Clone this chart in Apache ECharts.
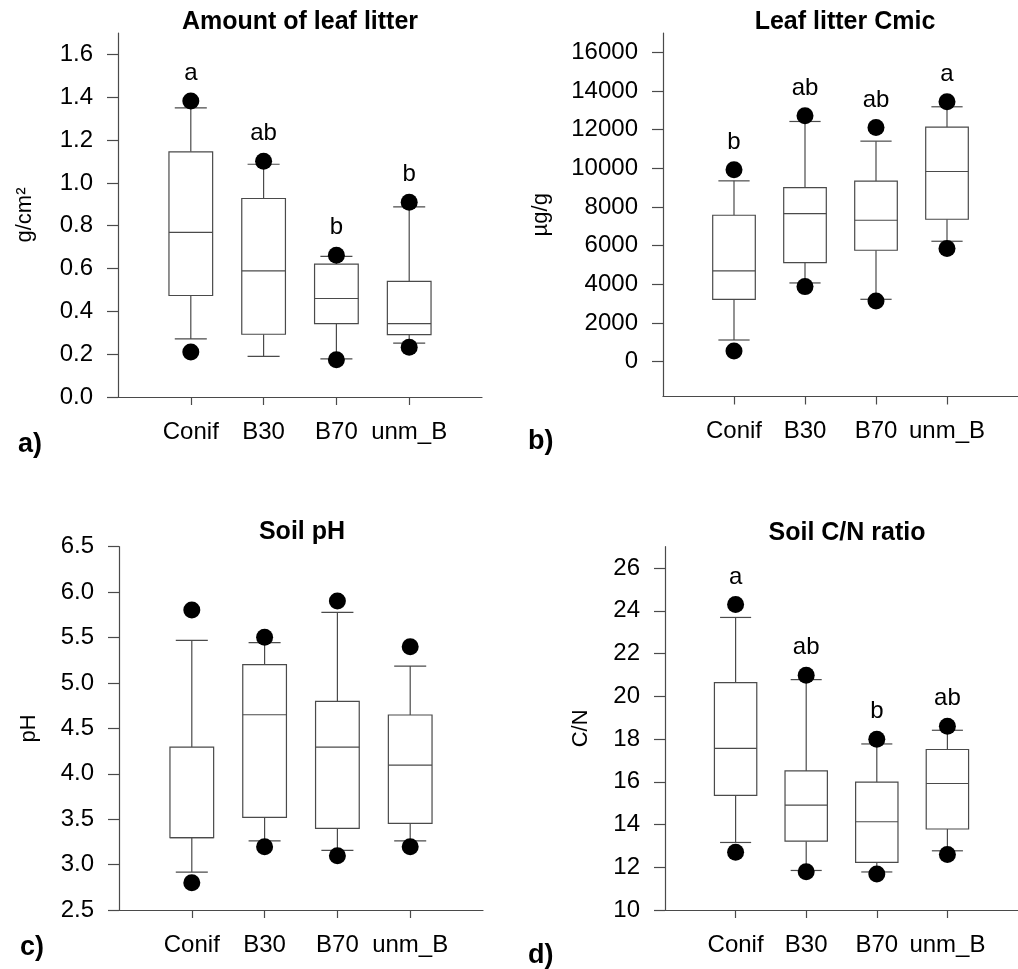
<!DOCTYPE html>
<html>
<head>
<meta charset="utf-8">
<script src="https://cdn.jsdelivr.net/npm/echarts@6/dist/echarts.min.js"></script>
<style>
  html, body { margin: 0; padding: 0; background: #fff; }
  #chart { width: 1018px; height: 969px; }
</style>
</head>
<body>
<div id="chart"></div>
<script>
// ---------------- data ----------------
const categories = ['Conif', 'B30', 'B70', 'unm_B'];

// Panel a: Amount of leaf litter  [lower whisker, Q1, median, Q3, upper whisker]
const litterBox = [
  [0.271, 0.474, 0.769, 1.145, 1.350],
  [0.190, 0.293, 0.589, 0.927, 1.087],
  [0.178, 0.343, 0.460, 0.621, 0.657],
  [0.252, 0.291, 0.343, 0.540, 0.888]
];
const litterHigh = [1.382, 1.101, 0.662, 0.910];
const litterLow = [0.210, null, 0.174, 0.232];
const litterLetters = ['a', 'ab', 'b', 'b'];
const litterTicks = [0.0, 0.2, 0.4, 0.6, 0.8, 1.0, 1.2, 1.4, 1.6];

// Panel b: Leaf litter Cmic
const cmicBox = [
  [1122, 3227, 4694, 7575, 9353],
  [4073, 5125, 7662, 9008, 12424],
  [3227, 5764, 7316, 9336, 11407],
  [6229, 7368, 9836, 12131, 13184]
];
const cmicHigh = [9922, 12718, 12114, 13443];
const cmicLow = [552, 3883, 3141, 5850];
const cmicLetters = ['b', 'ab', 'ab', 'a'];
const cmicTicks = [0, 2000, 4000, 6000, 8000, 10000, 12000, 14000, 16000];

// Panel c: Soil pH
const phBox = [
  [2.918, 3.296, 3.296, 4.294, 5.469],
  [3.260, 3.520, 4.650, 5.201, 5.443],
  [3.157, 3.399, 4.294, 4.797, 5.777],
  [3.260, 3.454, 4.096, 4.647, 5.186]
];
const phHigh = [5.803, 5.502, 5.902, 5.399];
const phLow = [2.801, 3.197, 3.098, 3.197];
const phLetters = null;
const phTicks = [2.5, 3.0, 3.5, 4.0, 4.5, 5.0, 5.5, 6.0, 6.5];

// Panel d: Soil C/N ratio
const cnBox = [
  [13.16, 15.36, 17.56, 20.64, 23.69],
  [11.85, 13.22, 14.91, 16.51, 20.78],
  [11.78, 12.23, 14.13, 15.98, 17.77],
  [12.77, 13.79, 15.92, 17.51, 18.41]
];
const cnHigh = [24.29, 20.98, 17.99, 18.60];
const cnLow = [12.70, 11.79, 11.68, 12.60];
const cnLetters = ['a', 'ab', 'b', 'ab'];
const cnTicks = [10, 12, 14, 16, 18, 20, 22, 24, 26];

// ---------------- styling / layout ----------------
const FONT = 'Liberation Sans, Arial, Helvetica, sans-serif';
const LINE = '#4a4a4a';
const TEXT = '#000';
const LW = 1.2;

const panels = [
  { title: 'Amount of leaf litter', tag: 'a)', yName: 'g/cm²', box: litterBox, high: litterHigh, low: litterLow,
    letters: litterLetters, ticks: litterTicks, min: 0, max: 1.7, dec: 1,
    grid: { left: 118, top: 33, width: 364, height: 364 }, nameGap: 82,
    titlePos: [300, 22], tagPos: [18, 445] },
  { title: 'Leaf litter Cmic', tag: 'b)', yName: 'µg/g', box: cmicBox, high: cmicHigh, low: cmicLow,
    letters: cmicLetters, ticks: cmicTicks, min: -1800, max: 17000, dec: 0,
    grid: { left: 663, top: 33, width: 364, height: 363.5 }, nameGap: 111,
    titlePos: [845, 22], tagPos: [528, 442] },
  { title: 'Soil pH', tag: 'c)', yName: 'pH', box: phBox, high: phHigh, low: phLow,
    letters: phLetters, ticks: phTicks, min: 2.5, max: 6.5, dec: 1,
    grid: { left: 119, top: 546.7, width: 364, height: 363.3 }, nameGap: 79,
    titlePos: [302, 532], tagPos: [20, 948] },
  { title: 'Soil C/N ratio', tag: 'd)', yName: 'C/N', box: cnBox, high: cnHigh, low: cnLow,
    letters: cnLetters, ticks: cnTicks, min: 10, max: 27, dec: 0,
    grid: { left: 665, top: 546.7, width: 364, height: 363.3 }, nameGap: 73,
    titlePos: [847, 533], tagPos: [528, 956] }
];

const axisCats = [''].concat(categories, ['']);
const showCat = (i) => i >= 1 && i <= categories.length;

function renderBox(params, api) {
  const x = api.value(0);
  const band = api.size([1, 0])[0];
  const bw = band * 0.6, cw = band * 0.44;
  const pMin = api.coord([x, api.value(1)]);
  const pQ1 = api.coord([x, api.value(2)]);
  const pMed = api.coord([x, api.value(3)]);
  const pQ3 = api.coord([x, api.value(4)]);
  const pMax = api.coord([x, api.value(5)]);
  const cx = pMin[0];
  const st = { stroke: LINE, lineWidth: LW, fill: null };
  return {
    type: 'group',
    children: [
      { type: 'line', shape: { x1: cx, y1: pMax[1], x2: cx, y2: pQ3[1] }, style: st },
      { type: 'line', shape: { x1: cx, y1: pQ1[1], x2: cx, y2: pMin[1] }, style: st },
      { type: 'line', shape: { x1: cx - cw / 2, y1: pMax[1], x2: cx + cw / 2, y2: pMax[1] }, style: st },
      { type: 'line', shape: { x1: cx - cw / 2, y1: pMin[1], x2: cx + cw / 2, y2: pMin[1] }, style: st },
      { type: 'rect', shape: { x: cx - bw / 2, y: pQ3[1], width: bw, height: pQ1[1] - pQ3[1] },
        style: { stroke: LINE, lineWidth: LW, fill: '#fff' } },
      { type: 'line', shape: { x1: cx - bw / 2, y1: pMed[1], x2: cx + bw / 2, y2: pMed[1] }, style: st }
    ]
  };
}

const grid = [], xAxis = [], yAxis = [], series = [], graphic = [];

panels.forEach((p, k) => {
  grid.push(Object.assign({ containLabel: false }, p.grid));
  xAxis.push({
    type: 'category', gridIndex: k, data: axisCats, boundaryGap: false,
    axisLine: { onZero: false, lineStyle: { color: LINE, width: LW } },
    axisTick: { show: true, length: 8, interval: (i) => showCat(i), lineStyle: { color: LINE, width: LW } },
    axisLabel: { interval: (i) => showCat(i), fontSize: 24, fontFamily: FONT, color: TEXT, margin: 23 },
    splitLine: { show: false }
  });
  yAxis.push({
    type: 'value', gridIndex: k, min: p.min, max: p.max,
    name: p.yName, nameLocation: 'middle', nameGap: p.nameGap, nameRotate: 90,
    nameTextStyle: { fontSize: 22, fontFamily: FONT, color: TEXT },
    axisLine: { show: true, onZero: false, lineStyle: { color: LINE, width: LW } },
    axisTick: { show: true, length: 11, customValues: p.ticks, lineStyle: { color: LINE, width: LW } },
    axisLabel: { customValues: p.ticks, fontSize: 24, fontFamily: FONT, color: TEXT, margin: 25,
      formatter: (v) => Number(v).toFixed(p.dec) },
    splitLine: { show: false }
  });
  series.push({
    type: 'custom', xAxisIndex: k, yAxisIndex: k,
    renderItem: renderBox,
    encode: { x: 0, y: [1, 2, 3, 4, 5] },
    data: p.box.map((b, i) => [i + 1].concat(b)),
    silent: true
  });
  const letters = p.letters;
  series.push({
    type: 'scatter', xAxisIndex: k, yAxisIndex: k, symbol: 'circle', symbolSize: 17,
    itemStyle: { color: '#000', opacity: 1 }, silent: true,
    data: p.high.map((v, i) => [i + 1, v]),
    label: {
      show: !!letters, position: 'top', distance: 7, fontSize: 24, fontFamily: FONT, color: TEXT,
      opacity: 1,
      formatter: (q) => (letters ? letters[q.dataIndex] : '')
    }
  });
  series.push({
    type: 'scatter', xAxisIndex: k, yAxisIndex: k, symbol: 'circle', symbolSize: 17,
    itemStyle: { color: '#000', opacity: 1 }, silent: true,
    data: p.low.map((v, i) => (v === null ? null : [i + 1, v])).filter((d) => d !== null)
  });
  graphic.push({
    type: 'text', x: p.titlePos[0], y: p.titlePos[1],
    style: { text: p.title, fontSize: 25, fontWeight: 'bold', fontFamily: FONT, fill: '#000',
      align: 'center', verticalAlign: 'middle' }
  });
  graphic.push({
    type: 'text', x: p.tagPos[0], y: p.tagPos[1],
    style: { text: p.tag, fontSize: 27, fontWeight: 'bold', fontFamily: FONT, fill: '#000',
      align: 'left', verticalAlign: 'middle' }
  });
});

const chart = echarts.init(document.getElementById('chart'), null, { renderer: 'canvas' });
chart.setOption({
  animation: false,
  backgroundColor: '#fff',
  grid, xAxis, yAxis, series, graphic
});
</script>
</body>
</html>
